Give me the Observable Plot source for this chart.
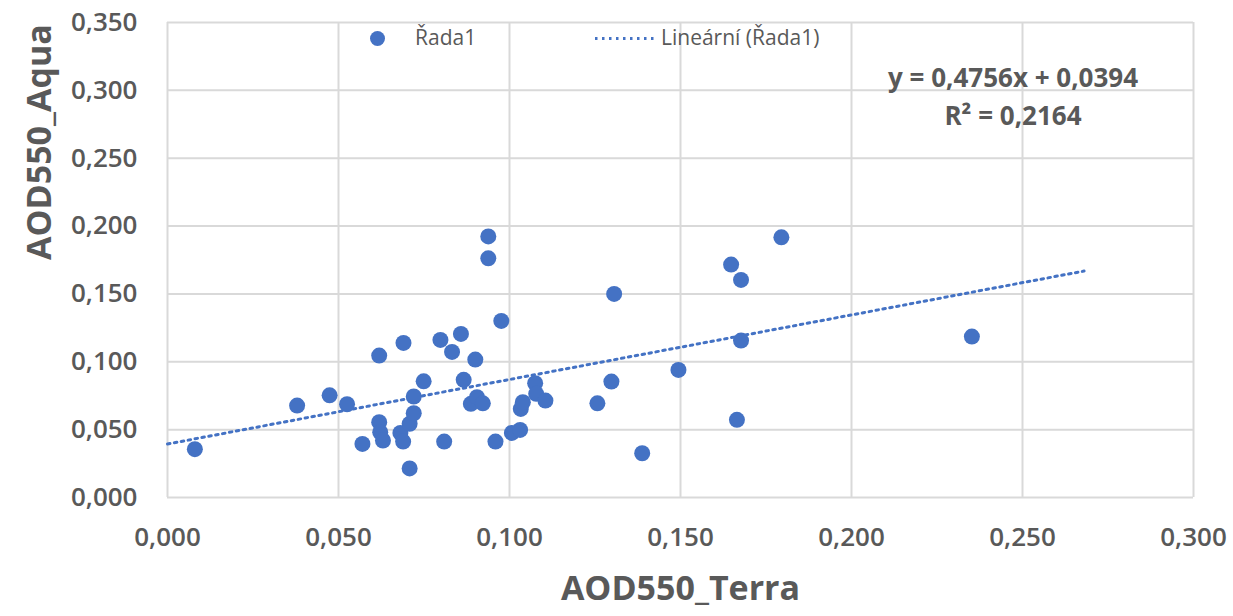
<!DOCTYPE html>
<html><head><meta charset="utf-8">
<script src="https://cdn.jsdelivr.net/npm/d3@7"></script>
<script src="https://cdn.jsdelivr.net/npm/@observablehq/plot@0.6"></script>
<style>
body{margin:0;background:#fff;}
#wrap{position:relative;width:1233px;height:616px;font-family:"Open Sans",sans-serif;color:#595959;}
.lg{position:absolute;font-size:21px;line-height:1;white-space:nowrap;}
.eq{position:absolute;font-size:26px;font-weight:700;white-space:nowrap;transform:translateX(-50%);line-height:1;}
</style></head><body><div id="wrap"></div>
<script>
const terra = [0.0080,0.0379,0.0474,0.0525,0.0619,0.0619,0.0622,0.0630,0.0570,0.0690,0.0681,0.0689,0.0708,0.0720,0.0720,0.0708,0.0749,0.0798,0.0809,0.0832,0.0858,0.0866,0.0900,0.0938,0.0938,0.0976,0.0887,0.0905,0.0922,0.0959,0.1007,0.1031,0.1033,0.1039,0.1075,0.1078,0.1105,0.1257,0.1298,0.1306,0.1388,0.1494,0.1648,0.1677,0.1795,0.1677,0.1665,0.2352];
const aqua  = [0.0356,0.0677,0.0753,0.0687,0.1046,0.0555,0.0481,0.0420,0.0395,0.1139,0.0476,0.0412,0.0543,0.0621,0.0744,0.0214,0.0856,0.1161,0.0412,0.1073,0.1205,0.0867,0.1016,0.1924,0.1762,0.1301,0.0690,0.0739,0.0694,0.0412,0.0476,0.0498,0.0653,0.0702,0.0842,0.0764,0.0714,0.0694,0.0854,0.1500,0.0326,0.0940,0.1716,0.1603,0.1917,0.1156,0.0572,0.1186];
const xTicks = [0, 0.05, 0.10, 0.15, 0.20, 0.25, 0.30];
const yTicks = [0, 0.05, 0.10, 0.15, 0.20, 0.25, 0.30, 0.35];
const slope = 0.4756, intercept = 0.0394, r2 = 0.2164;
const trendX = [0, 0.268];
const seriesName = "Řada1";
const trendName = "Lineární (Řada1)";
const xTitle = "AOD550_Terra", yTitle = "AOD550_Aqua";

const fmt3 = d => d.toFixed(3).replace(".", ",");
const fmt4 = d => d.toFixed(4).replace(".", ",");
const points = terra.map((t, i) => ({x: t, y: aqua[i]}));
const trend = trendX.map(x => ({x, y: slope * x + intercept}));
const blue = "#4472C4", grey = "#595959", gridC = "#d9d9d9";

const chart = Plot.plot({
  width: 1233, height: 616,
  marginLeft: 167, marginRight: 40, marginTop: 22, marginBottom: 119,
  style: {fontFamily: '"Open Sans", sans-serif', background: "#fff"},
  x: {domain: [0, 0.3]},
  y: {domain: [0, 0.35]},
  marks: [
    Plot.gridX(xTicks, {stroke: gridC, strokeOpacity: 1, strokeWidth: 2}),
    Plot.gridY(yTicks, {stroke: gridC, strokeOpacity: 1, strokeWidth: 2}),
    Plot.axisX(xTicks, {tickSize: 0, tickPadding: 30, tickFormat: fmt3, fontSize: 26, fontWeight: 600, fill: grey, label: null}),
    Plot.axisY(yTicks, {tickSize: 0, tickPadding: 30, tickFormat: fmt3, fontSize: 26, fontWeight: 600, fill: grey, label: null}),
    Plot.text([xTitle], {frameAnchor: "bottom", dy: 102, fontSize: 34, fontWeight: 700, fill: grey}),
    Plot.text([yTitle], {frameAnchor: "left", dx: -127, rotate: -90, fontSize: 34, fontWeight: 700, fill: grey}),
    Plot.line(trend, {x: "x", y: "y", stroke: blue, strokeWidth: 3, strokeDasharray: "2.5 4.5"}),
    Plot.dot(points, {x: "x", y: "y", r: 8, fill: blue, stroke: "none"})
  ]
});
const wrap = document.getElementById("wrap");
wrap.appendChild(chart);

const add = (html) => { const d = document.createElement("div"); d.innerHTML = html; wrap.appendChild(d.firstChild); };
add(`<div style="position:absolute;left:370px;top:31px;width:15px;height:15px;border-radius:50%;background:${blue}"></div>`);
add(`<div class="lg" style="left:415px;top:27px">${seriesName}</div>`);
add(`<svg style="position:absolute;left:594px;top:36px" width="64" height="5"><line x1="1" y1="2.5" x2="63" y2="2.5" stroke="${blue}" stroke-width="3" stroke-dasharray="2.5 4.5"/></svg>`);
add(`<div class="lg" style="left:661px;top:27px">${trendName}</div>`);
add(`<div class="eq" style="left:1013px;top:64px">y = ${fmt4(slope)}x + ${fmt4(intercept)}</div>`);
add(`<div class="eq" style="left:1013px;top:102px">R² = ${fmt4(r2)}</div>`);
</script></body></html>
